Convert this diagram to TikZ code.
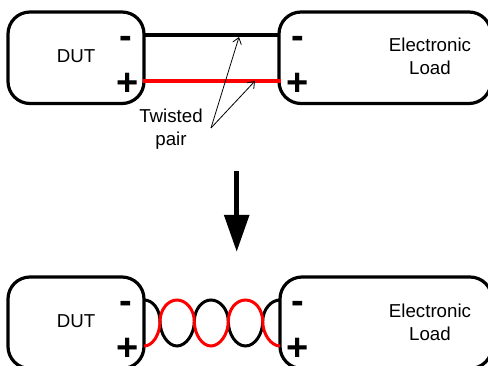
\documentclass[tikz,border=0pt]{standalone}
\usepackage{fontspec}
\setmainfont{Liberation Sans}
\usetikzlibrary{arrows.meta}
\tikzset{
  x=1pt,y=-1pt,
  devbox/.style={draw=black,line width=3.2pt,rounded corners=22pt,minimum width=#1,minimum height=91.5pt,inner sep=0pt,outer sep=0pt},
  lbl/.style={align=center,inner sep=0pt,font=\fontsize{18.7}{23}\selectfont},
  sign/.style={inner sep=0pt,anchor=base,font=\fontsize{38}{38}\selectfont\bfseries},
  wire/.style={line width=3.2pt,draw=black},
  redwire/.style={line width=3.2pt,draw=red},
  twist/.style={line width=3pt,draw=#1},
  note/.style={line width=0.8pt,-{Straight Barb[length=6pt,width=9pt]}},
  bigarrow/.style={line width=5.5pt,-{Triangle[length=37pt,width=24pt]}}
}
\begin{document}
\begin{tikzpicture}
\clip (0,0) rectangle (488,366);
% upper stage
\node[devbox=136pt] (dutA) at (76,57.75) {};
\node[devbox=212pt] (loadA) at (385,57.75) {};
\node[lbl] (dutAt) at (76,56) {DUT};
\node[lbl] (loadAt) at (430,56.5) {Electronic\\Load};
\node[sign] (dutAm) at (126,48.3) {-};
\node[sign] (dutAp) at (127.5,95.5) {+};
\node[sign] (loadAm) at (298,48.3) {-};
\node[sign] (loadAp) at (298,95.5) {+};
\draw[wire] (dutA.east |- 0,35) -- (loadA.west |- 0,35);
\draw[redwire] (143,81) coordinate (ra) -- (281,81) coordinate (rb);
\node[lbl] (pairlabel) at (171,129.5) {Twisted\\pair};
\coordinate (apex) at (211,128);
\coordinate (blacktip) at (239,37);
\coordinate (redtip) at (255,81);
\draw[note] (apex) -- (blacktip);
\draw[note] (apex) -- (redtip);
% transition arrow
\coordinate (arrowstart) at (236.7,171);
\coordinate (arrowend) at (236.7,252);
\draw[bigarrow] (arrowstart) -- (arrowend);
% lower stage
\node[devbox=136pt] (dutB) at (76,322.75) {};
\node[devbox=212pt] (loadB) at (386,322.75) {};
\node[lbl] (dutBt) at (76,321) {DUT};
\node[lbl] (loadBt) at (430,322.5) {Electronic\\Load};
\node[sign] (dutBm) at (126,313.3) {-};
\node[sign] (dutBp) at (127.5,360.5) {+};
\node[sign] (loadBm) at (298,313.3) {-};
\node[sign] (loadBp) at (298,360.5) {+};
% twisted pair
\coordinate (tl) at (144,300);
\coordinate (bl) at (144,346);
\coordinate (tr) at (280,300);
\coordinate (br) at (280,346);
\draw[twist=black] (tl) .. controls (153,300) and (160,309.5) .. (160,321.5)
  .. controls (160,334) and (168,346) .. (177,346)
  .. controls (186,346) and (194.3,334) .. (194.3,321.5)
  .. controls (194.3,309.5) and (202,300) .. (211,300)
  .. controls (220,300) and (228.3,309.5) .. (228.3,321.5)
  .. controls (228.3,334) and (236,346) .. (245.5,346)
  .. controls (255,346) and (262.7,334) .. (262.7,321.5)
  .. controls (262.7,309.5) and (271,300) .. (tr);
\draw[twist=red] (bl) .. controls (153,346) and (160,334) .. (160,321.5)
  .. controls (160,309.5) and (168,300) .. (177,300)
  .. controls (186,300) and (194.3,309.5) .. (194.3,321.5)
  .. controls (194.3,334) and (202,346) .. (211,346)
  .. controls (220,346) and (228.3,334) .. (228.3,321.5)
  .. controls (228.3,309.5) and (236,300) .. (245.5,300)
  .. controls (255,300) and (262.7,309.5) .. (262.7,321.5)
  .. controls (262.7,334) and (271,346) .. (br);
\end{tikzpicture}
\end{document}
